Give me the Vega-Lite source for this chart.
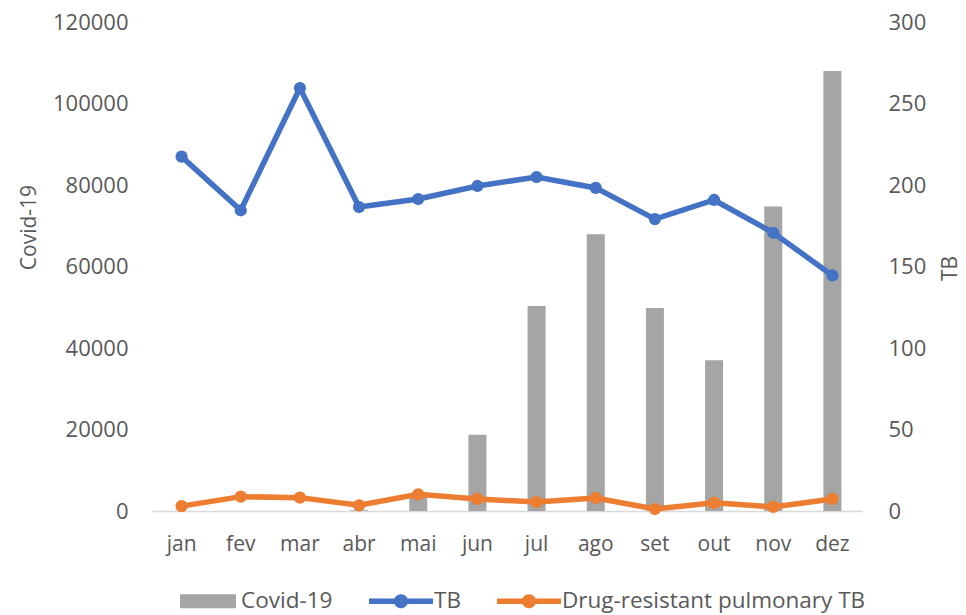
{
  "$schema": "https://vega.github.io/schema/vega-lite/v6.json",
  "width": 710,
  "height": 489,
  "autosize": {"type": "none"},
  "padding": {"left": 152, "top": 22, "right": 104, "bottom": 104},
  "background": "white",
  "config": {
    "view": {"stroke": null},
    "font": "Open Sans",
    "axis": {"labelColor": "#595959", "titleColor": "#595959", "grid": false, "ticks": false, "labelFont": "Open Sans", "titleFont": "Open Sans", "titleFontWeight": "normal"},
    "legend": {"orient": "none", "legendX": 24, "legendY": 547, "direction": "horizontal", "labelFont": "Open Sans", "labelFontSize": 22.5, "labelColor": "#595959", "labelLimit": 0, "symbolSize": 4096, "symbolOpacity": 1, "symbolStrokeWidth": 0, "columnPadding": 36, "labelOffset": 1}
  },
  "data": {
    "values": [
      {"month": "jan", "series": "Covid-19", "value": 0},
      {"month": "fev", "series": "Covid-19", "value": 0},
      {"month": "mar", "series": "Covid-19", "value": 0},
      {"month": "abr", "series": "Covid-19", "value": 200},
      {"month": "mai", "series": "Covid-19", "value": 3500},
      {"month": "jun", "series": "Covid-19", "value": 18700},
      {"month": "jul", "series": "Covid-19", "value": 50300},
      {"month": "ago", "series": "Covid-19", "value": 67900},
      {"month": "set", "series": "Covid-19", "value": 49800},
      {"month": "out", "series": "Covid-19", "value": 37000},
      {"month": "nov", "series": "Covid-19", "value": 74700},
      {"month": "dez", "series": "Covid-19", "value": 108000},
      {"month": "jan", "series": "TB", "value": 217.4},
      {"month": "fev", "series": "TB", "value": 184.5},
      {"month": "mar", "series": "TB", "value": 259.5},
      {"month": "abr", "series": "TB", "value": 186.5},
      {"month": "mai", "series": "TB", "value": 191.4},
      {"month": "jun", "series": "TB", "value": 199.4},
      {"month": "jul", "series": "TB", "value": 204.9},
      {"month": "ago", "series": "TB", "value": 198.2},
      {"month": "set", "series": "TB", "value": 179.1},
      {"month": "out", "series": "TB", "value": 190.8},
      {"month": "nov", "series": "TB", "value": 170.7},
      {"month": "dez", "series": "TB", "value": 144.5},
      {"month": "jan", "series": "Drug-resistant pulmonary TB", "value": 3},
      {"month": "fev", "series": "Drug-resistant pulmonary TB", "value": 8.8},
      {"month": "mar", "series": "Drug-resistant pulmonary TB", "value": 8.2},
      {"month": "abr", "series": "Drug-resistant pulmonary TB", "value": 3.5},
      {"month": "mai", "series": "Drug-resistant pulmonary TB", "value": 10.2},
      {"month": "jun", "series": "Drug-resistant pulmonary TB", "value": 7.4},
      {"month": "jul", "series": "Drug-resistant pulmonary TB", "value": 5.5},
      {"month": "ago", "series": "Drug-resistant pulmonary TB", "value": 8},
      {"month": "set", "series": "Drug-resistant pulmonary TB", "value": 1.2},
      {"month": "out", "series": "Drug-resistant pulmonary TB", "value": 5},
      {"month": "nov", "series": "Drug-resistant pulmonary TB", "value": 2.5},
      {"month": "dez", "series": "Drug-resistant pulmonary TB", "value": 7.4}
    ]
  },
  "layer": [
    {
      "transform": [{"filter": "datum.series === 'Covid-19'"}],
      "mark": {"type": "bar", "size": 18},
      "encoding": {
        "x": {"field": "month", "type": "nominal", "sort": ["jan","fev","mar","abr","mai","jun","jul","ago","set","out","nov","dez"], "scale": {"paddingInner": 0, "paddingOuter": 0}, "axis": {"title": null, "labelAngle": 0, "labelFontSize": 21, "labelPadding": 22, "domainColor": "#D9D9D9", "domainWidth": 1.3}},
        "y": {"field": "value", "type": "quantitative", "scale": {"domain": [0, 120000], "nice": false}, "axis": {"title": "Covid-19", "orient": "left", "values": [0, 20000, 40000, 60000, 80000, 100000, 120000], "format": "d", "domain": false, "labelFontSize": 22, "labelPadding": 24, "titleFontSize": 21, "titleX": -117, "titleY": 205, "titleAngle": -90, "titleBaseline": "alphabetic", "titleAlign": "center"}},
        "color": {"field": "series", "type": "nominal", "title": null, "scale": {"domain": ["Covid-19", "TB", "Drug-resistant pulmonary TB"], "range": ["#A5A5A5", "#4472C4", "#ED7D31"]}}
      }
    },
    {
      "transform": [{"filter": "datum.series !== 'Covid-19'"}],
      "encoding": {
        "x": {"field": "month", "type": "nominal", "sort": ["jan","fev","mar","abr","mai","jun","jul","ago","set","out","nov","dez"]},
        "y": {"field": "value", "type": "quantitative", "scale": {"domain": [0, 300], "nice": false}, "axis": {"title": "TB", "orient": "right", "values": [0, 50, 100, 150, 200, 250, 300], "domain": false, "labelFontSize": 22, "labelPadding": 26, "titleFontSize": 21, "titleX": 94, "titleY": 246, "titleAngle": -90, "titleBaseline": "alphabetic", "titleAlign": "center"}},
        "color": {"field": "series", "type": "nominal", "title": null, "scale": {"domain": ["Covid-19", "TB", "Drug-resistant pulmonary TB"], "range": ["#A5A5A5", "#4472C4", "#ED7D31"]}}
      },
      "layer": [
        {"mark": {"type": "line", "strokeWidth": 5.5}},
        {"mark": {"type": "point", "filled": true, "size": 150, "opacity": 1}},
        {
          "mark": {"type": "point", "filled": true, "opacity": 0},
          "encoding": {
            "shape": {"field": "series", "type": "nominal", "title": null, "scale": {"domain": ["Covid-19", "TB", "Drug-resistant pulmonary TB"], "range": ["M-0.875,-0.22H0.875V0.22H-0.875Z", "M-1,-0.086H1V0.086H-1Z M-0.22,0A0.22,0.22 0 1,1 0.22,0A0.22,0.22 0 1,1 -0.22,0Z", "M-1,-0.086H1V0.086H-1Z M-0.22,0A0.22,0.22 0 1,1 0.22,0A0.22,0.22 0 1,1 -0.22,0Z"]}}
          }
        }
      ]
    }
  ],
  "resolve": {"scale": {"y": "independent"}}
}
